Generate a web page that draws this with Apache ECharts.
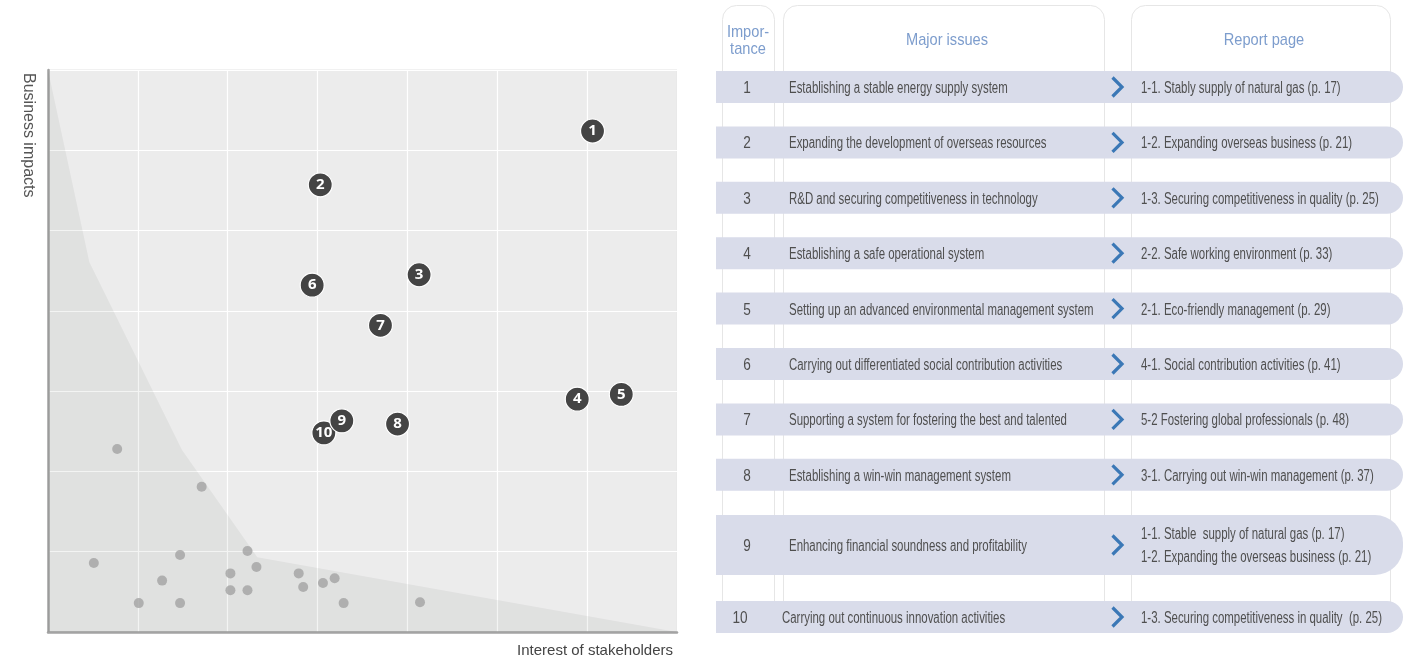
<!DOCTYPE html>
<html>
<head>
<meta charset="utf-8">
<script src="https://cdn.jsdelivr.net/npm/echarts@6/dist/echarts.min.js"></script>
<style>
  html, body { margin: 0; padding: 0; background: #fff; }
  #chart { width: 1413px; height: 659px; }
</style>
</head>
<body>
<div id="chart"></div>
<script>
// ---------- DATA ----------
// Material issues (numbered markers) : x = interest of stakeholders, y = business impacts
const issueNumbers = ['1', '2', '3', '4', '5', '6', '7', '8', '9', '10'];
const issueX = [6.06, 3.03, 4.13, 5.89, 6.38, 2.94, 3.70, 3.89, 3.27, 3.07];
const issueY = [6.24, 5.57, 4.45, 2.90, 2.96, 4.32, 3.82, 2.59, 2.63, 2.48];

// Other (non-material) issues, small grey dots
const otherX = [0.77, 1.71, 0.51, 1.47, 1.27, 1.01, 1.47, 2.22, 2.32, 2.03, 2.03, 2.22, 2.79, 2.84, 3.06, 3.19, 3.29, 4.14];
const otherY = [2.28, 1.81, 0.86, 0.96, 0.64, 0.36, 0.36, 1.01, 0.81, 0.73, 0.52, 0.52, 0.73, 0.56, 0.61, 0.67, 0.36, 0.37];

// Materiality threshold boundary (shaded region below it)
const boundaryX = [0, 0.46, 1.49, 2.33, 7];
const boundaryY = [7, 4.61, 2.27, 0.93, 0];

// Table
const headerImportance = 'Impor-\ntance';
const headerIssues = 'Major issues';
const headerReport = 'Report page';
const tableImportance = ['1', '2', '3', '4', '5', '6', '7', '8', '9', '10'];
const tableIssues = [
  'Establishing a stable energy supply system',
  'Expanding the development of overseas resources',
  'R&D and securing competitiveness in technology',
  'Establishing a safe operational system',
  'Setting up an advanced environmental management system',
  'Carrying out differentiated social contribution activities',
  'Supporting a system for fostering the best and talented',
  'Establishing a win-win management system',
  'Enhancing financial soundness and profitability',
  'Carrying out continuous innovation activities'
];
const tableReports = [
  '1-1. Stably supply of natural gas (p. 17)',
  '1-2. Expanding overseas business (p. 21)',
  '1-3. Securing competitiveness in quality (p. 25)',
  '2-2. Safe working environment (p. 33)',
  '2-1. Eco-friendly management (p. 29)',
  '4-1. Social contribution activities (p. 41)',
  '5-2 Fostering global professionals (p. 48)',
  '3-1. Carrying out win-win management (p. 37)',
  '1-1. Stable  supply of natural gas (p. 17)\n1-2. Expanding the overseas business (p. 21)',
  '1-3. Securing competitiveness in quality  (p. 25)'
];

// ---------- LAYOUT ----------
const FONT = '"Liberation Sans", Arial, sans-serif';
const TEXT_COLOR = '#4f4f4f';
const HEAD_COLOR = '#7d9dcd';
const BAND_COLOR = '#d9dcea';
const CHEVRON_COLOR = '#3b78b6';
const CONDENSE = 0.715;
const HEAD_CONDENSE = 0.86;
const TEXT_DY = 1.5;

function rowCenter(i) {
  if (i < 8) return 87 + i * 55.4;
  if (i === 8) return 545;
  return 617;
}
function rowHeight(i) {
  if (i === 8) return 60;
  return 32;
}

const graphics = [];

// axis titles
graphics.push({
  type: 'text', x: 28, y: 73, rotation: -Math.PI / 2,
  style: { text: 'Business impacts', font: '16px ' + FONT, fill: '#555',
           textAlign: 'left', align: 'left', textVerticalAlign: 'middle', verticalAlign: 'middle' }
});
graphics.push({
  type: 'text', x: 673, y: 651,
  style: { text: 'Interest of stakeholders', font: '15px ' + FONT, fill: '#444',
           textAlign: 'right', align: 'right', textVerticalAlign: 'middle', verticalAlign: 'middle' }
});

// column boxes
const colBoxes = [
  { x: 722, w: 52 },
  { x: 783, w: 321 },
  { x: 1131, w: 259 }
];
colBoxes.forEach(function (c) {
  graphics.push({
    type: 'rect', shape: { x: c.x + 0.5, y: 5.5, width: c.w, height: 615, r: 14 },
    style: { fill: '#ffffff', stroke: '#e6e6e6', lineWidth: 1 }
  });
});

// headers
function headText(txt, x, y) {
  return {
    type: 'text', x: x, y: y, scaleX: HEAD_CONDENSE,
    style: { text: txt, font: '17px ' + FONT, fill: HEAD_COLOR, lineHeight: 17,
             textAlign: 'center', align: 'center', textVerticalAlign: 'middle', verticalAlign: 'middle' }
  };
}
graphics.push(headText(headerImportance, 748, 40.5));
graphics.push(headText(headerIssues, 947, 40.5));
graphics.push(headText(headerReport, 1264, 40.5));

// rows
for (let i = 0; i < tableIssues.length; i++) {
  const cy = rowCenter(i);
  const h = rowHeight(i);
  const rr = i === 8 ? 28 : h / 2;
  graphics.push({
    type: 'rect', shape: { x: 716, y: cy - h / 2, width: 687, height: h, r: [0, rr, rr, 0] },
    style: { fill: BAND_COLOR }
  });
  const last = i === tableIssues.length - 1;
  graphics.push({
    type: 'text', x: last ? 740 : 747, y: cy + TEXT_DY, scaleX: 0.85,
    style: { text: tableImportance[i], font: '16px ' + FONT, fill: TEXT_COLOR,
             textAlign: 'center', align: 'center', textVerticalAlign: 'middle', verticalAlign: 'middle' }
  });
  graphics.push({
    type: 'text', x: last ? 782 : 789, y: cy + TEXT_DY, scaleX: CONDENSE,
    style: { text: tableIssues[i], font: '16px ' + FONT, fill: TEXT_COLOR,
             textAlign: 'left', align: 'left', textVerticalAlign: 'middle', verticalAlign: 'middle' }
  });
  graphics.push({
    type: 'polyline', shape: { points: [[1112.5, cy - 9.5], [1122, cy], [1112.5, cy + 9.5]] },
    style: { stroke: CHEVRON_COLOR, lineWidth: 3.2, fill: null }
  });
  graphics.push({
    type: 'text', x: 1141, y: cy + TEXT_DY, scaleX: CONDENSE,
    style: { text: tableReports[i], font: '16px ' + FONT, fill: TEXT_COLOR, lineHeight: 23,
             textAlign: 'left', align: 'left', textVerticalAlign: 'middle', verticalAlign: 'middle' }
  });
}

// ---------- CHART ----------
const boundaryData = boundaryX.map(function (x, i) { return [x, boundaryY[i]]; });
const otherData = otherX.map(function (x, i) { return [x, otherY[i]]; });
const issueData = issueX.map(function (x, i) { return [x, issueY[i], issueNumbers[i]]; }).reverse();

const axisCommon = {
  type: 'value', min: 0, max: 7, interval: 1,
  axisLine: { show: true, onZero: false, lineStyle: { color: '#a3a3a3', width: 2.5 } },
  axisTick: { show: false },
  axisLabel: { show: false },
  splitLine: { show: true, lineStyle: { color: '#ffffff', width: 1.2 } }
};

const option = {
  animation: false,
  backgroundColor: '#ffffff',
  grid: {
    left: 48, top: 70, width: 629, height: 562,
    show: true, backgroundColor: '#ececec', borderColor: '#e2e2e2', borderWidth: 1
  },
  xAxis: Object.assign({}, axisCommon),
  yAxis: Object.assign({}, axisCommon),
  series: [
    {
      type: 'line', data: boundaryData, symbol: 'none', silent: true,
      lineStyle: { width: 0 },
      areaStyle: { color: 'rgba(0,12,0,0.066)', origin: 'start' },
      z: 1
    },
    {
      type: 'scatter', data: otherData, symbolSize: 10, silent: true,
      itemStyle: { color: '#a3a3a3' }, z: 2
    },
    {
      type: 'scatter', data: issueData, symbolSize: 24, silent: true,
      itemStyle: { color: '#444444', borderColor: '#ffffff', borderWidth: 1.2, opacity: 1 },
      label: {
        show: true, position: 'inside', formatter: function (p) { return p.data[2]; },
        color: '#ffffff', fontFamily: '"Noto Sans", sans-serif', fontWeight: 'bold', fontSize: 15
      },
      z: 3
    }
  ],
  graphic: graphics
};

const chart = echarts.init(document.getElementById('chart'), null, { renderer: 'canvas' });
chart.setOption(option);
</script>
</body>
</html>
